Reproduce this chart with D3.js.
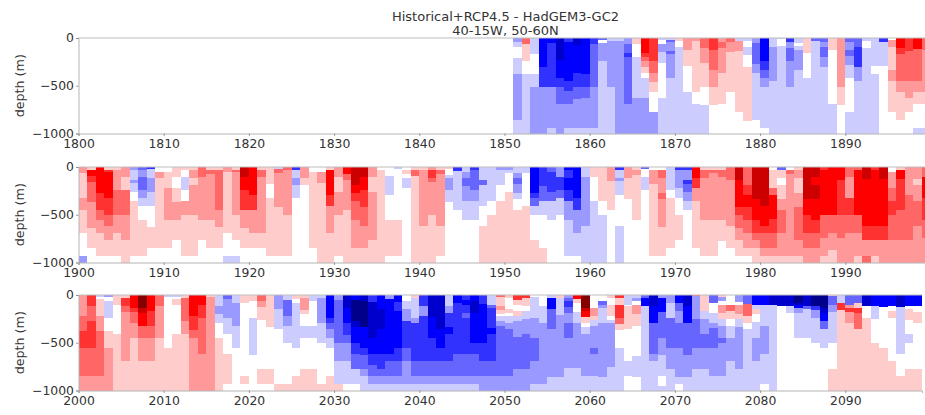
<!DOCTYPE html>
<html><head><meta charset="utf-8">
<script src="https://cdn.jsdelivr.net/npm/d3@7"></script>
<style>html,body{margin:0;background:#fff;overflow:hidden}svg{display:block}text{font-family:"DejaVu Sans",sans-serif;fill:#2a2a2a}</style>
</head><body><svg id="c" width="925" height="415"></svg>
<script>
// Each year: runs of "<class><bottom depth in m>" from the surface down; a bare class runs to 1000 m.
// Classes: a..g = cooling steps (a weakest), 0 = none, 1..7 = warming steps (1 weakest).
const classes = ["g","f","e","d","c","b","a","0","1","2","3","4","5","6","7"];
const classColors = ["#00008a","#0000cc","#0000ff","#3333ff","#6666ff","#9999ff","#ccccff","#ffffff","#ffcccc","#ff9999","#ff6666","#ff3333","#ff0000","#cc0000","#850000"];
const depthTicks = [0,-500,-1000];
const startYears = [1851,1900,2000];
const firstTicks = [1800,1900,2000];
const endYears = [1900,2000,2099];

const rows1851 = [
"b45 a95 0205 a375 b860 a","365 1245 0375 a","a165 0375 a515 b","e300 d510 b","e55 d510 b940 a",
"f230 e420 d515 c695 b","d45 e450 d560 c695 b940 a","f70 e370 d515 c640 b940 a","e375 d515 c625 b940 a","d65 c515 b940 a",
"c20 050 b245 a","a30 b515 a","a35 b","b60 c160 d195 c695 b","160 0195 a625 b",
"5160 4195 3245 2300 1370 0420 a630 b","4245 3370 2465 1565 0775 b","a25 060 b150 a260 0625 a","a20 c40 b140 c165 b420 a","130 090 a",
"2130 1295 0565 a","230 1570 0695 a","3100 2265 1515 0700 a","4125 3335 2515 1700 0","240 3100 2370 1695 0",
"345 2145 1565 0","a30 2140 1775 0","a35 095 a180 0300 1870 0","b50 c275 b370 a855 0","e245 d335 c420 b515 a945 0",
"a90 b455 a","a15 085 a","d40 b100 c245 b515 a","a50 080 a125 b335 a","1160 0420 a",
"c35 a","c40 b90 c195 b300 a","1125 0695 a","2515 1700 0","c40 b130 c190 b280 a420 0775 a",
"c90 d300 b455 a","a30 0100 a","a295 0375 a","d45 a295 0","020 295 1335 2455 1775 0",
"5100 4170 3450 2565 1855 0","4135 3450 2625 1775 0","5115 3450 2565 1695 0945 a","3130 2565 1695 0945 a"];

const rows1900 = [
"260 1325 2450 1690 0935 b","130 590 4155 3365 2640 1850 0","5275 4450 3555 2690 1935 0","130 450 5320 4500 3620 2760 1935 0","130 2240 3500 2695 1935 0",
"2100 1240 3500 2765 1","b30 a135 b170 a260 0360 1935 0","c30 b100 c240 b320 a405 0555 1935 0","d20 a115 b265 a405 0625 1850 0","050 2115 1850 0",
"050 1225 2555 1850 0","1100 0225 1365 2555 1760 0","130 0100 a240 0360 2500 1935 0","130 2110 1190 2500 1935 0","3100 2555 1760 0",
"130 370 2555 1850 0","130 3450 2625 1850 0","255 1690 0935 a","130 350 2500 1760 0935 a","6100 5240 4450 2640 1850 0",
"5290 4450 2690 1850 0","130 3100 2690 1850 0","1175 0325 1935 0","a20 365 2415 1935 0","330 2500 1935 0",
"d30 a115 b190 a325 0","2115 1190 0","050 1850 0","050 2170 1","130 5290 4410 2690 1",
"2100 1265 2500 1935 0","570 3135 2450 1","6190 5275 4360 3555 2850 1","6100 5240 4415 3620 2850 1","2100 1265 2760 1",
"030 1","095 a290 0555 1935 0","a25 0555 1935 0","030 170 0115 a220 0","130 390 1",
"130 2620 1","230 4110 3155 2500 1","130 370 2620 1935 0","120 080 a120 b240 a365 0","d40 a450 0",
"a55 b115 c195 b360 a555 0","d30 c240 b360 a555 0","a135 c190 a405 0620 1","a360 0500 1","b35 a190 0360 1",
"b35 a60 0265 1","a60 b120 c180 b270 a330 0450 1","a65 0410 1","e270 d325 c410 a500 0760 1","d200 c360 a500 0850 1",
"c55 d265 c360 a555 0","b100 d240 c325 a500 0","e35 d120 e240 d360 b555 a935 0","e325 d450 b690 a935 0","a100 b620 a",
"130 1100 0360 a","130 1360 0500 a","2150 1450 0","d30 a120 b150 a290 0620 a","2115 1330 0",
"130 280 1555 0","c25 0100 a240 0","030 2175 1935 0","030 3120 2270 3330 2625 1935 0","a240 0325 1850 0",
"d35 b225 a325 0500 1760 0","d30 b135 d180 c265 b360 a450 0","5110 4220 2360 1850 0","130 3120 2555 1935 0","130 360 2555 1935 0",
"130 3100 2555 1775 0","3135 2620 1850 0","6135 5415 4500 3640 2760 1935 0","3190 4290 5415 4555 3690 2850 1935 0","6330 5550 4690 3760 2850 1",
"6410 5620 4690 3850 2935 1","030 1220 3290 5540 4690 3850 2935 1","c30 1115 0190 1330 2450 3690 2935 1","030 370 2935 1","130 2120 1270 2420 3760 2935 1",
"6330 5500 4690 3850 2","6100 5190 6330 5550 4690 3850 2","430 5500 3740 2935 1","5500 3690 2870 1","5135 4500 3740 2",
"3100 2325 4500 3690 2","330 5500 3690 2935 1","6130 5620 4760 2935 3","430 5620 4760 2935 1","6130 5620 4760 2",
"050 2220 3360 4500 3760 2","130 5130 4450 3760 2","2290 3760 2","2130 1190 2360 3620 2","3100 5325 4555 3740 2"];

const rows2000 = [
"2220 3380 4560 3850 2","4120 3270 4555 3850 2","a20 045 1220 2380 3850 2","b25 065 a240 0380 1555 2","1100 0410 1",
"130 4120 3180 2690 1","5140 4175 3290 2450 1","7135 6190 5325 3450 2690 1","5165 4325 3450 2690 1","3120 2450 1",
"a20 0555 1","a20 040 1100 0410 1","130 3270 2410 1","5220 4365 3450 2","5100 4240 3620 2",
"120 2","a120 b200 a290 0450 1","c40 b240 a410 0620 1935 0","a85 b325 a555 0","180 0850 1935 0",
"165 0240 a625 0","360 2130 1265 0775 1935 0","1335 0775 1935 0","b150 a360 0935 1","a50 c220 b325 a500 0935 1",
"145 080 a555 0850 1","130 2155 1200 0325 a450 0780 1","a65 0325 a450 0780 1","a30 b290 a500 0935 1","e240 d290 c360 b450 a555 0850 1",
"b50 c500 b690 a935 1","f140 e290 d415 c500 b690 a935 0","e50 g275 f330 e500 d620 c770 a935 0","f60 g340 e555 d630 c775 b850 a","d70 f450 e620 d730 c850 b935 a",
"e150 f360 e620 d775 c850 b935 a","b40 e620 d690 c850 b935 a","e70 d170 e550 d690 c850 b935 a","060 a150 b270 d550 c690 b935 a","130 a240 b290 d690 c850 b935 a",
"d120 b220 d690 c850 b935 a","f230 e450 d690 c850 b935 a","f360 e555 d690 c850 b935 a","a120 b190 d330 e410 d690 c850 b935 a","e85 d620 c850 b935 a",
"d50 e100 d190 c240 d620 c850 b935 a","e60 f190 e500 d620 c850 b935 a","d90 e500 d690 c850 b","a100 c135 d350 e410 d690 c850 b","320 1110 2155 1200 0225 a270 b325 c850 b",
"130 0150 1190 0225 a290 b360 c850 b","450 1100 0170 1220 a275 b440 c780 b","430 1115 0170 a255 b410 c780 b","020 a240 b450 c690 b935 a","0110 a290 b935 a",
"a35 e150 c360 b855 a","130 a205 b855 a","b30 c60 d125 c190 b290 c450 b760 a","540 180 0180 a290 b760 a","7135 6170 5230 1290 0330 a410 b850 a",
"0135 2220 1265 a325 b555 c620 b850 a","065 c100 b135 a290 b855 a","130 0100 1220 0265 a290 b750 a","430 1100 4240 3300 1370 0555 a","a100 0120 1360 0690 a850 0",
"a30 b65 0100 2200 1325 0640 a855 0","c35 e110 a","f120 e290 c620 b690 a","b35 e180 c450 b625 a850 0955 a","b85 a240 c555 b775 a",
"e85 c170 b290 c555 b855 a935 0","f120 e290 c625 b855 a","315 b250 c555 b775 a","1165 a255 b410 c555 b770 a","c85 0190 a290 b350 c555 b850 a",
"120 b65 0105 2190 1255 a320 b455 c500 b850 a","0105 3170 1255 0325 a450 b690 a","b70 0105 2195 1255 a330 b770 a","c90 3220 1290 0360 a","e100 a150 1195 0285 a450 b690 a",
"e100 a325 b620 a935 0","f100 a","f110 0","f110 a190 0","g80 f100 e140 b190 a450 0",
"f115 c150 a450 0","g115 d160 b240 a500 0","g135 f190 e270 c360 a555 0","115 c100 b175 a500 0780 1","a85 4155 1",
"c100 2135 4175 2290 1","c85 1135 4190 3360 1","f110 0240 1","e110 a250 0500 1","e125 0555 1",
"e110 0170 1240 0690 1","f130 a620 0850 1","e110 0150 1265 0410 a500 0780 1","e115 0175 1290 0780 1"];

const titleLines = ["Historical+RCP4.5 - HadGEM3-GC2","40-15W, 50-60N"];
const yLabel = "depth (m)";
const allRows = [rows1851,rows1900,rows2000];
const panelTops = [38,167,295];
const panelH = 95.5, x0px = 78.5, pxPerYear = 8.52;

const svg = d3.select("#c");
const defs = svg.append("defs");
defs.append("filter").attr("id","soft").attr("x","-2%").attr("y","-2%").attr("width","104%").attr("height","104%")
  .append("feGaussianBlur").attr("stdDeviation",0.7);
const color = d3.scaleOrdinal(classes,classColors);

function parseRuns(s){
  let top=0;
  return s.trim().split(/\s+/).map(t=>{
    const bottom = t.length>1 ? +t.slice(1) : 1000;
    const r={cls:t[0],top,bottom}; top=bottom; return r;
  });
}

allRows.forEach((rows,i)=>{
  const yearStart=firstTicks[i], yearEnd=endYears[i];
  const full = i<2 ? yearStart+100 : yearEnd;
  const x=d3.scaleLinear().domain([yearStart,full]).range([x0px,x0px+(full-yearStart)*pxPerYear]);
  const y=d3.scaleLinear().domain([0,-1000]).range([panelTops[i],panelTops[i]+panelH]);
  const g=svg.append("g");
  const cells=g.append("g").attr("filter","url(#soft)");
  rows.forEach((s,k)=>{
    const yr=startYears[i]+k;
    cells.selectAll(null).data(parseRuns(s)).enter().append("rect")
      .attr("x",x(yr)).attr("width",x(yr+1)-x(yr)+0.4)
      .attr("y",d=>y(-d.top)).attr("height",d=>y(-d.bottom)-y(-d.top)+0.4)
      .attr("fill",d=>color(d.cls)).attr("shape-rendering","crispEdges");
  });
  const xTicks=d3.range(yearStart,yearStart+100,10);
  const ax=d3.axisBottom(x).tickValues(xTicks).tickFormat(d3.format("d")).tickSize(2.5).tickPadding(3);
  const ay=d3.axisLeft(y).tickValues(depthTicks).tickFormat(d=>d===0?"0":"\u2212"+Math.abs(d)).tickSize(2.5).tickPadding(2);
  const gx=g.append("g").attr("transform",`translate(0,${panelTops[i]+panelH})`).call(ax);
  const gy=g.append("g").attr("transform",`translate(${x0px},0)`).call(ay);
  [gx,gy].forEach(a=>{
    a.selectAll("text").attr("font-size",12.4).style("fill","#333");
    a.selectAll("line").attr("stroke","#777").attr("stroke-width",0.7);
    a.select(".domain").attr("stroke","#b4b4b4").attr("stroke-width",1);
  });
  g.append("line").attr("x1",x0px).attr("x2",x(full)).attr("y1",panelTops[i]).attr("y2",panelTops[i]).attr("stroke","#bdbdbd").attr("stroke-width",1);
  g.append("text").attr("transform",`translate(24,${panelTops[i]+panelH/2}) rotate(-90)`)
    .attr("text-anchor","middle").attr("font-size",12.7).style("fill","#333").text(yLabel);
});
titleLines.forEach((t,i)=>{
  svg.append("text").attr("x",505.5).attr("y",20.5+i*14.5).attr("text-anchor","middle").attr("font-size",13).style("fill","#333").text(t);
});
</script></body></html>
